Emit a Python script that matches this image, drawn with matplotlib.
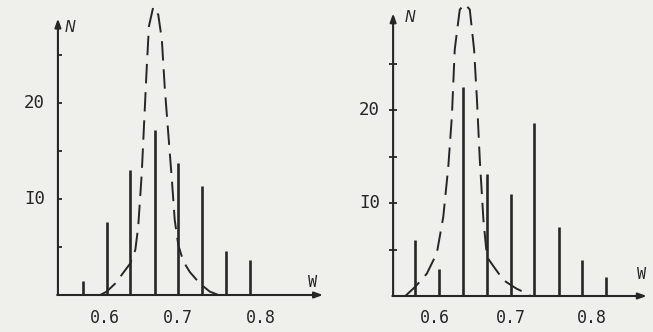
import matplotlib.pyplot as plt

# histogram bins (W) and counts N
w_left = [0.567, 0.600, 0.633, 0.667, 0.700, 0.733, 0.767, 0.800]
n_left = [1.5, 7.6, 13.0, 17.2, 13.8, 11.4, 4.6, 3.6]

w_right = [0.567, 0.600, 0.633, 0.667, 0.700, 0.733, 0.767, 0.800, 0.833]
n_right = [6.0, 2.9, 22.5, 13.1, 11.0, 18.6, 7.4, 3.9, 2.0]

# dashed distribution curves
curve_w_left = [0.591, 0.600, 0.612, 0.623, 0.633, 0.640, 0.644, 0.649, 0.652,
                0.656, 0.659, 0.665, 0.672, 0.677, 0.681, 0.686, 0.691, 0.695,
                0.700, 0.707, 0.716, 0.730, 0.744, 0.756]
curve_n_left = [0.0, 0.35, 1.2, 2.3, 3.3, 4.7, 7.1, 12.7, 17.5,
                23.8, 28.0, 30.0, 29.2, 26.6, 21.7, 16.8, 12.0, 7.8,
                5.2, 3.5, 2.4, 1.2, 0.35, 0.0]

curve_w_right = [0.553, 0.567, 0.583, 0.597, 0.606, 0.613, 0.618, 0.622, 0.629,
                 0.636, 0.643, 0.649, 0.653, 0.657, 0.662, 0.667, 0.676, 0.690,
                 0.708, 0.727]
curve_n_right = [0.0, 1.0, 2.4, 4.6, 8.5, 13.9, 19.3, 26.5, 30.8,
                 31.4, 30.8, 26.5, 21.1, 14.6, 8.2, 4.2, 3.2, 1.7,
                 0.8, 0.1]

y_ticks = [5, 10, 15, 20, 25]
y_labels = {10: "I0", 20: "20"}
x_labels = ["0.6", "0.7", "0.8"]

INK = "#262626"
PAPER = "#efefeb"
FONT = "DejaVu Sans Mono"


def draw_panel(ax, w, n, cw, cn, x0, x_end, y_top, label_pos, n_pos, w_pos):
    ax.set_facecolor(PAPER)
    ax.axis("off")
    ax.vlines(w, 0, n, color=INK, lw=1.9)
    ax.plot(cw, cn, color=INK, lw=1.4, dashes=(10, 4.5), clip_on=False)
    # axes with arrow heads
    ax.annotate("", xy=(x_end, 0), xytext=(x0 - 0.001, 0),
                arrowprops=dict(arrowstyle="-|>,head_length=0.5,head_width=0.18",
                                color=INK, lw=1.5, shrinkA=0, shrinkB=0))
    ax.annotate("", xy=(x0, y_top), xytext=(x0, 0),
                arrowprops=dict(arrowstyle="-|>,head_length=0.5,head_width=0.18",
                                color=INK, lw=1.5, shrinkA=0, shrinkB=0))
    ax.plot([x0] * len(y_ticks), y_ticks, ls="none", marker="_",
            markersize=6, mew=1.3, color=INK)
    for v, s in y_labels.items():
        ax.text(x0 - 0.018, v, s, ha="right", va="center",
                fontsize=12.5, family=FONT, color=INK)
    for p, s in zip(label_pos, x_labels):
        ax.text(p, -2.4, s, ha="center", va="center",
                fontsize=12, family=FONT, color=INK)
    ax.text(n_pos[0], n_pos[1], "N", ha="center", va="center",
            fontsize=10.5, style="italic", family="DejaVu Sans", color=INK)
    ax.text(w_pos[0], w_pos[1], "W", ha="center", va="center",
            fontsize=11, family=FONT, color=INK)


fig = plt.figure(figsize=(6.53, 3.32), dpi=100, facecolor=PAPER)

ax1 = fig.add_axes([56.5 / 653, 8.2 / 332, 272.3 / 653, 321.6 / 332])
ax1.set_xlim(0.53, 0.91)
ax1.set_ylim(-3, 30.5)
draw_panel(ax1, w_left, n_left, curve_w_left, curve_n_left,
           0.532, 0.902, 28.8, [0.597, 0.7, 0.815], (0.549, 27.9), (0.888, 1.3))

ax2 = fig.add_axes([388.8 / 653, 8.1 / 332, 261.6 / 653, 322.7 / 332])
ax2.set_xlim(0.53, 0.895)
ax2.set_ylim(-3, 31.7)
draw_panel(ax2, w_right, n_right, curve_w_right, curve_n_right,
           0.536, 0.89, 30.4, [0.594, 0.7, 0.813], (0.56, 29.9), (0.883, 2.3))

fig.savefig("out.png", dpi=100, facecolor=PAPER)
